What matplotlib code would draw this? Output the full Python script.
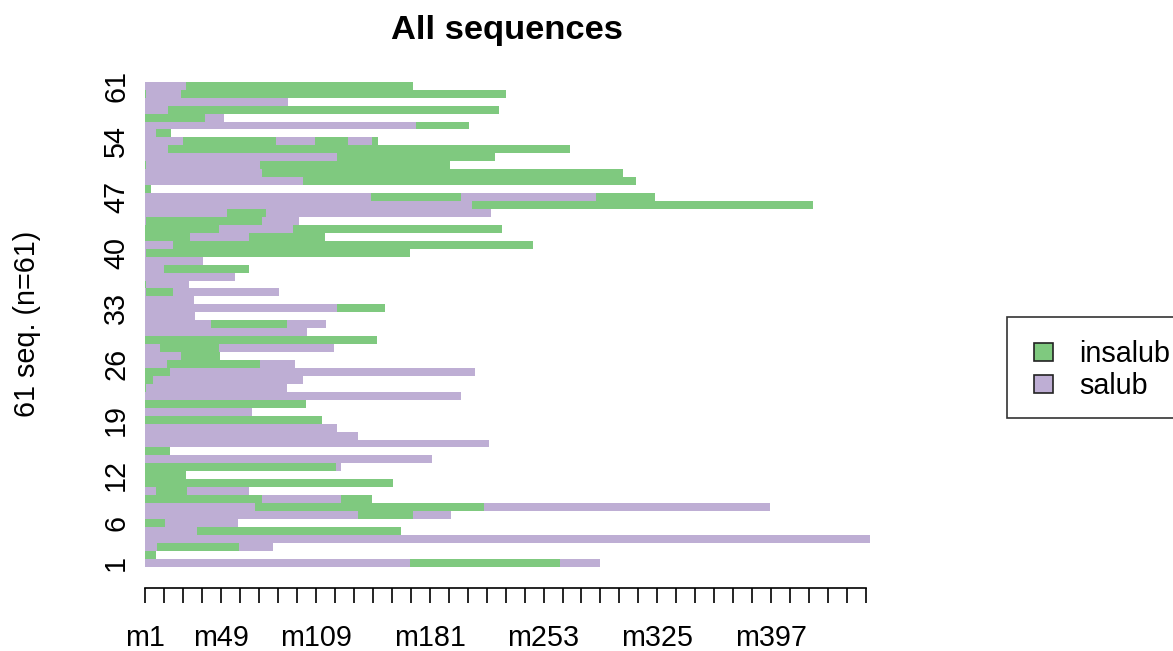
import matplotlib
matplotlib.use("Agg")
import matplotlib.pyplot as plt
from matplotlib.patches import Rectangle

plt.rcParams['font.family'] = ['Liberation Sans', 'DejaVu Sans']

# ---- data -------------------------------------------------------------
state_names = {"I": "insalub", "S": "salub"}
state_colors = {"I": "#7FC97F", "S": "#BEAED4"}
legend_states = ["I", "S"]

# spells per sequence (row 1 = bottom), states and lengths in months
spell_states = [
    "SIS", "I", "SIS", "S", "SI", "IS", "SIS", "SIS", "ISI", "SIS",          # 1-10
    "I", "I", "IS", "S", "I", "S", "S", "S", "I", "S",                       # 11-20
    "I", "S", "IS", "IS", "IS", "SIS", "SI", "SIS", "I", "S",                # 21-30
    "SIS", "S", "SI", "S", "SIS", "IS", "S", "SI", "S", "SI",                # 31-40
    "SI", "ISI", "ISI", "SIS", "SIS", "SI", "SISI", "I", "SI", "SI",         # 41-50
    "ISI", "SI", "SI", "SISISI", "SI", "SI", "IS", "SI", "S", "ISI",         # 51-60
    "SI",                                                                    # 61
]
spell_lengths = [
    [168, 95, 25], [7], [8, 52, 21], [459], [33, 129], [13, 46], [135, 35, 24],
    [70, 145, 181], [74, 50, 20], [7, 20, 39],
    [157], [26], [121, 3], [182], [16], [218], [135], [122], [112], [68],
    [102], [200], [1, 89], [5, 95], [16, 193], [14, 59, 22], [23, 25],
    [10, 37, 73], [147], [103],
    [42, 48, 25], [32], [122, 30], [31], [1, 17, 67], [1, 27], [57], [12, 54],
    [37], [1, 167],
    [18, 228], [29, 37, 48], [47, 47, 132], [1, 73, 24], [52, 25, 142],
    [207, 216], [143, 57, 86, 37], [4], [100, 211], [74, 229],
    [1, 72, 120], [122, 100], [15, 254], [24, 59, 25, 21, 15, 4], [7, 10],
    [172, 33], [38, 12], [15, 209], [91], [1, 22, 206],
    [26, 144],
]
seq_length = 459
x_tick_months = list(range(1, 458, 12))
x_label_months = [1, 49, 109, 181, 253, 325, 397]
y_tick_seqs = [1, 6, 12, 19, 26, 33, 40, 47, 54, 61]
title = "All sequences"
y_title = "61 seq. (n=61)"

# ---- figure -----------------------------------------------------------
W, H = 1173, 651
fig = plt.figure(figsize=(W / 100, H / 100), dpi=100)
px_per_month = 1.58
left_px, top_px, bottom_px = 144.6, 81.8, 566.7
ax = fig.add_axes([left_px / W, (H - bottom_px) / H,
                   seq_length * px_per_month / W, (bottom_px - top_px) / H])

for row, (states, lengths) in enumerate(zip(spell_states, spell_lengths), start=1):
    start = 0
    for st, ln in zip(states, lengths):
        ax.barh(row, ln, left=start, height=1.0, color=state_colors[st],
                linewidth=0, edgecolor='none')
        start += ln

ax.set_xlim(0, seq_length)
ax.set_ylim(0.5, len(spell_states) + 0.5)

for s in ["top", "right", "left"]:
    ax.spines[s].set_visible(False)
ax.spines["bottom"].set_position(("outward", 15.3))
ax.spines["bottom"].set_bounds(x_tick_months[0] - 0.5, x_tick_months[-1] - 0.5)
ax.spines["bottom"].set_linewidth(1.2)

ax.set_xticks([m - 0.5 for m in x_tick_months])
ax.set_xticklabels([f"m{m}" if m in x_label_months else "" for m in x_tick_months],
                   fontsize=20.7)
ax.tick_params(axis="x", direction="out", length=11, width=1.2, pad=15)

ax.set_yticks(y_tick_seqs)
ax.set_yticklabels([str(v) for v in y_tick_seqs], rotation=90, va="center",
                   fontsize=20.7)
ax.tick_params(axis="y", length=0, pad=10.5)

fig.text(507 / W, 1 - 39 / H, title, ha="center", va="baseline",
         fontsize=24.8, fontweight="bold")
fig.text(27 / W, 1 - 324 / H, y_title, ha="center", va="center",
         rotation=90, fontsize=20.7)

# ---- legend (drawn in figure pixels, extends past the right edge) ------
def fx(x):
    return x / W

def fy(y):
    return 1 - y / H

box = Rectangle((fx(1007.3), fy(418.3)), fx(1200) - fx(1007.3), fy(316.7) - fy(418.3),
                transform=fig.transFigure, facecolor="white", edgecolor="#333333",
                linewidth=1.2, clip_on=False)
fig.patches.append(box)
for i, st in enumerate(legend_states):
    cy = 352 + i * 32
    sq = Rectangle((fx(1034), fy(cy + 9)), fx(19), 18 / H,
                   transform=fig.transFigure, facecolor=state_colors[st],
                   edgecolor="#222222", linewidth=1.2)
    fig.patches.append(sq)
    fig.text(fx(1079), fy(cy + 10), state_names[st], ha="left", va="baseline",
             fontsize=20.7)

fig.savefig("out.png", dpi=100)
